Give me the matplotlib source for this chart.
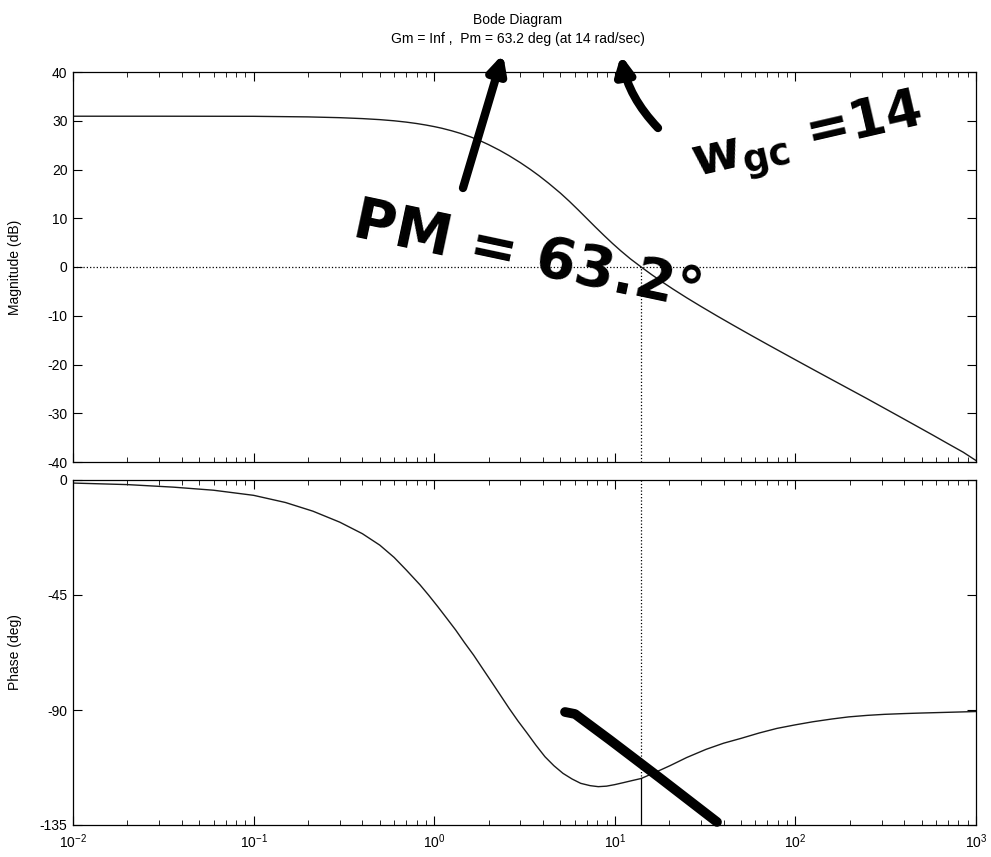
import matplotlib
matplotlib.use("Agg")
import matplotlib.pyplot as plt
import numpy as np
from matplotlib.lines import Line2D
from matplotlib.ticker import LogLocator, NullFormatter

plt.rcParams["font.family"] = ["Liberation Sans", "DejaVu Sans"]
plt.rcParams["axes.unicode_minus"] = False
plt.rcParams["mathtext.fontset"] = "custom"
plt.rcParams["mathtext.rm"] = "Liberation Sans"
plt.rcParams["mathtext.it"] = "Liberation Sans:italic"
plt.rcParams["mathtext.bf"] = "DejaVu Sans:bold"

# values
mag_w = [0.01, 0.03, 0.1, 0.2, 0.3, 0.4, 0.5, 0.6, 0.7, 0.8, 0.9, 1.0, 1.1, 1.25, 1.4,
         1.6, 1.8, 2.0, 2.3, 2.6, 3.0, 3.4, 3.8, 4.3, 5.0, 5.6, 6.3, 7.0, 7.8, 8.7,
         9.7, 10.8, 12.2, 14.0, 16.0, 18.5, 21.0, 25.0, 30.0, 37.0, 45.0, 57.0, 70.0, 85.0,
         106.0, 130.0, 160.0, 200.0, 248.0, 300.0, 380.0, 470.0, 581.0, 700.0, 850.0, 1000.0]
mag_db = [30.93, 30.93, 30.91, 30.79, 30.63, 30.44, 30.23, 29.99, 29.72, 29.43, 29.12, 28.80, 28.47, 27.94, 27.40,
          26.65, 25.88, 25.10, 23.95, 22.83, 21.40, 20.04, 18.74, 17.18, 15.15, 13.48, 11.64, 9.95, 8.21, 6.50,
          4.85, 3.31, 1.67, 0.0, -1.57, -3.18, -4.53, -6.31, -8.09, -10.08, -11.89, -14.04, -15.88, -17.60,
          -19.55, -21.34, -23.15, -25.09, -26.96, -28.65, -30.75, -32.65, -34.55, -36.25, -38.0, -39.7]

ph_w = [0.01, 0.02, 0.036, 0.06, 0.1, 0.15, 0.213, 0.3, 0.4, 0.5, 0.6, 0.7, 0.834, 0.93, 1.048,
        1.17, 1.315, 1.47, 1.652, 1.85, 2.073, 2.32, 2.596, 2.91, 3.265, 3.66, 4.107, 4.6, 5.167, 5.8,
        6.475, 7.3, 8.1, 9.0, 10.0, 11.2, 12.5, 14.0, 17.0, 20.2, 25.0, 32.0, 40.0, 50.0, 63.0,
        79.0, 100.0, 125.0, 160.0, 197.0, 250.0, 311.0, 400.0, 490.0, 700.0, 1000.0]
ph_deg = [-1.2, -1.8, -2.8, -4.0, -6.0, -8.8, -12.2, -16.5, -21.0, -25.5, -30.3, -35.2, -41.0, -45.0, -49.6,
          -54.0, -58.7, -63.6, -68.5, -73.7, -78.9, -84.1, -89.3, -94.3, -99.0, -103.8, -108.3, -111.8, -114.8, -117.0,
          -118.7, -119.6, -120.0, -119.8, -119.2, -118.4, -117.6, -116.8, -114.2, -111.8, -108.6, -105.4, -103.0, -101.1, -99.0,
          -97.2, -95.8, -94.6, -93.5, -92.7, -92.1, -91.7, -91.4, -91.2, -90.9, -90.6]

wgc = 14.0
pm = 63.2
mag_ticks = [40, 30, 20, 10, 0, -10, -20, -30, -40]
ph_ticks = [0, -45, -90, -135]

W, H = 991, 857
fig = plt.figure(figsize=(W / 100, H / 100), dpi=100)


def fx(x):
    return x / W


def fy(y):
    return 1 - y / H


ax1 = fig.add_axes([fx(73), fy(462), fx(976) - fx(73), fy(72) - fy(462)])
ax2 = fig.add_axes([fx(73), fy(825), fx(976) - fx(73), fy(480) - fy(825)])

line_c = "#1a1a1a"
ax1.semilogx(mag_w, mag_db, color=line_c, lw=1.0)
ax2.semilogx(ph_w, ph_deg, color=line_c, lw=1.0)

# margin markers
ax1.axhline(0, color="k", ls=":", lw=0.9)
ax1.plot([wgc, wgc], [-40, 0], color="k", ls=":", lw=0.9)
ax2.plot([wgc, wgc], [0, pm - 180], color="k", ls=":", lw=0.9)
ax2.plot([wgc, wgc], [pm - 180, -135], color="k", lw=0.9)

for ax in (ax1, ax2):
    ax.set_xlim(0.01, 1000)
    ax.xaxis.set_major_locator(LogLocator(base=10, numticks=10))
    ax.xaxis.set_minor_locator(LogLocator(base=10, subs=np.arange(2, 10), numticks=12))
    ax.xaxis.set_minor_formatter(NullFormatter())
    ax.tick_params(which="both", direction="in", top=True, right=True, labelsize=10, pad=4)
    ax.tick_params(which="major", length=6.5, width=0.8)
    ax.tick_params(which="minor", length=3.4, width=0.6)
    for s in ax.spines.values():
        s.set_linewidth(0.9)

ax1.set_ylim(-40, 40)
ax1.set_yticks(mag_ticks)
ax1.tick_params(axis="x", labelbottom=False)
ax1.set_ylabel("Magnitude (dB)", fontsize=10)
ax1.yaxis.set_label_coords(-0.056, 0.5)

ax2.set_ylim(-135, 0)
ax2.set_yticks(ph_ticks)
ax2.tick_params(axis="x", pad=5)
ax2.set_ylabel("Phase (deg)", fontsize=10)
ax2.yaxis.set_label_coords(-0.056, 0.5)

fig.text(fx(518), fy(24), "Bode Diagram", ha="center", va="baseline", fontsize=10)
fig.text(fx(518), fy(43), "Gm = Inf ,  Pm = 63.2 deg (at 14 rad/sec)",
         ha="center", va="baseline", fontsize=10)

# handwritten notes
hand = dict(color="k", fontweight="bold", family=["DejaVu Sans"])
fig.text(fx(528), fy(258), "PM = 63.2°", ha="center", va="center", rotation=-12,
         fontsize=41, **hand)
fig.text(fx(808), fy(140), r"w$\mathbf{_{gc}}$ =14", ha="center", va="center", rotation=13,
         fontsize=38, **hand)

arrow = dict(arrowstyle="-|>", color="k", lw=6, mutation_scale=26, shrinkA=0, shrinkB=0)
fig.add_artist(plt.Annotation("", xy=(fx(503), fy(54)), xytext=(fx(463), fy(188)),
                              xycoords="figure fraction", textcoords="figure fraction",
                              arrowprops=arrow))
fig.add_artist(plt.Annotation("", xy=(fx(621), fy(55)), xytext=(fx(658), fy(128)),
                              xycoords="figure fraction", textcoords="figure fraction",
                              arrowprops=dict(arrow, connectionstyle="arc3,rad=-0.15")))
fig.add_artist(Line2D([fx(565), fx(575), fx(610), fx(660), fx(717)],
                      [fy(712), fy(714), fy(740), fy(778), fy(822)],
                      color="k", lw=7, solid_capstyle="round", transform=fig.transFigure))

fig.savefig("out.png", dpi=100)
